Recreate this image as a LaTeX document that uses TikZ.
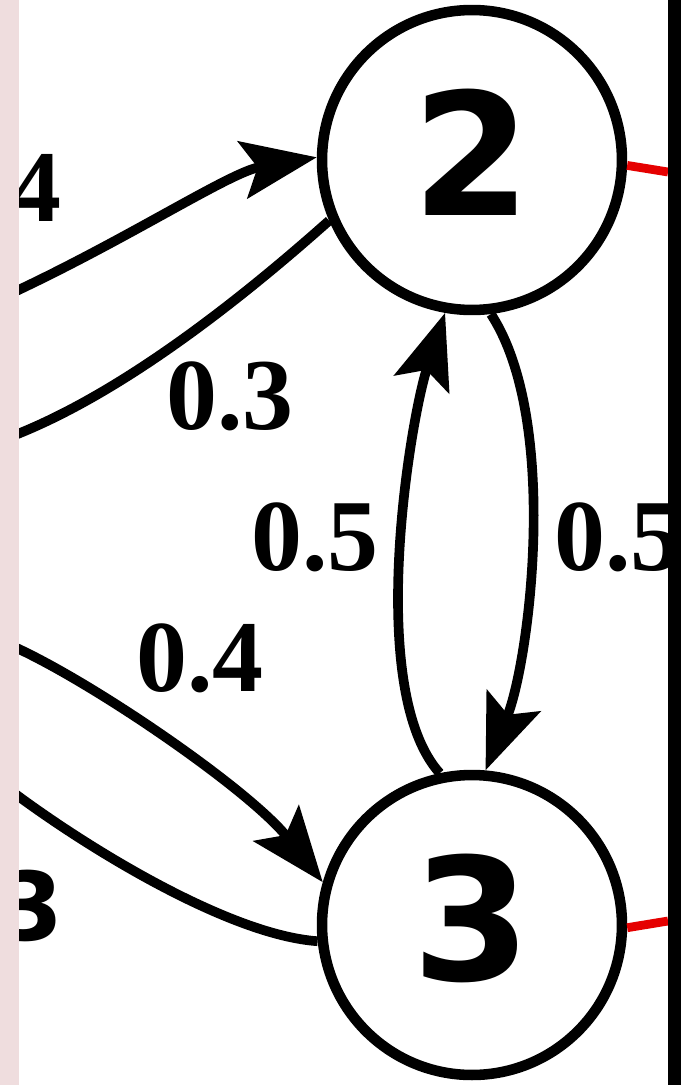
\documentclass[tikz,border=0pt]{standalone}
\usepackage{fontspec}
\setmainfont{Liberation Serif}
\newfontfamily\digitfont{DejaVu Sans}
\usetikzlibrary{arrows.meta}
\definecolor{stripbg}{RGB}{239,221,222}

\begin{document}
\begin{tikzpicture}[
    x=0.02cm, y=-0.02cm,
    state/.style={circle, draw, line width=6pt, minimum size=6cm, inner sep=0pt, text depth=0.32cm, fill=white, font=\digitfont\bfseries\fontsize{97}{97}\selectfont},
    prob/.style={inner sep=0pt, font=\bfseries\fontsize{58}{58}\selectfont},
    arrow/.style={-{Stealth[length=1.5cm, width=1.15cm, inset=0.3cm]}, line width=5.5pt},
    line/.style={line width=5.5pt},
    link/.style={line width=5pt, red!90!black}
]
\useasboundingbox (0,0) rectangle (681,1085);
\fill[white] (0,0) rectangle (681,1085);
% States
\node[state] (n2) at (472,160) {2};
\node[state] (n3) at (472,925) {3};
% Loose ends
\coordinate (from1) at (10,294);
\coordinate (to1) at (10,437);
\coordinate (from2) at (10,645);
\coordinate (to2) at (10,790);
\coordinate (out2) at (668,172);
\coordinate (out3) at (668,921);
% Edges between 2 and 3
\draw[arrow] (n3.102) .. controls (365,690) and (410,420) .. (n2.260);
\draw[arrow] (n2.277) .. controls (560,420) and (530,660) .. (n3.85);
% Edges to the left
\draw[arrow] (from1) .. controls (130,238) and (230,172) .. (n2.179);
\draw[line] (n2.203) .. controls (240,300) and (120,395) .. (to1);
\draw[arrow] (from2) .. controls (90,680) and (250,790) .. (n3.164);
\draw[line] (n3.186) .. controls (230,935) and (90,850) .. (to2);
% Edges to the right
\draw[link] (n2.-2) -- (out2);
\draw[link] (n3.-1) -- (out3);
% Probabilities
\node[prob] (p23) at (315,537) {0.5};
\node[prob] (p32) at (618,537) {0.5};
\node[prob] (p21) at (230,396) {0.3};
\node[prob] (p13) at (200,658) {0.4};
\node[prob] (p12) at (36,188) {4};
\node[inner sep=0pt, font=\digitfont\bfseries\fontsize{54}{54}\selectfont] (p31) at (31,906) {3};
% Borders
\fill[stripbg] (0,0) rectangle (19,1085);
\fill[black] (668,0) rectangle (681,1085);
\end{tikzpicture}
\end{document}
